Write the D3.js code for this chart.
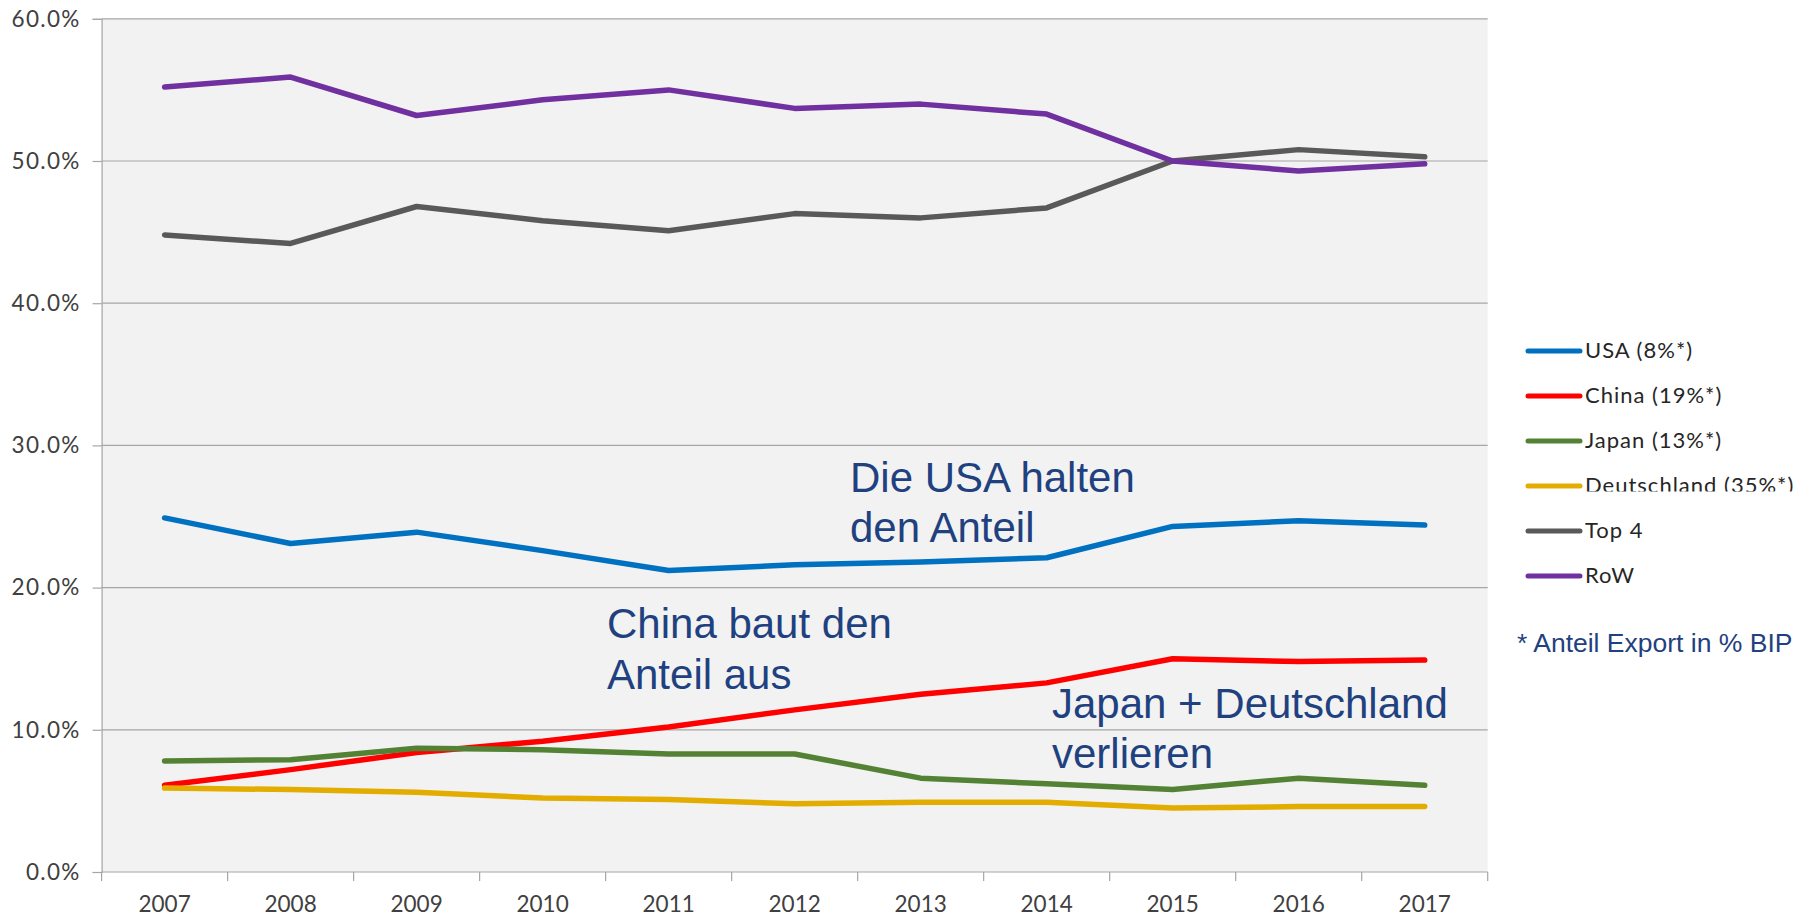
<!DOCTYPE html>
<html>
<head>
<meta charset="utf-8">
<script src="https://cdn.jsdelivr.net/npm/d3@7"></script>
<style>
  html, body { margin: 0; padding: 0; background: #ffffff; }
  svg { display: block; }
</style>
</head>
<body>
<svg id="chart" width="1811" height="917"></svg>
<script>
// ---- data ----
const years = ["2007","2008","2009","2010","2011","2012","2013","2014","2015","2016","2017"];
const usa         = [24.9, 23.1, 23.9, 22.6, 21.2, 21.6, 21.8, 22.1, 24.3, 24.7, 24.4];
const china       = [6.1, 7.2, 8.4, 9.2, 10.2, 11.4, 12.5, 13.3, 15.0, 14.8, 14.9];
const japan       = [7.8, 7.9, 8.7, 8.6, 8.3, 8.3, 6.6, 6.2, 5.8, 6.6, 6.1];
const deutschland = [5.9, 5.8, 5.6, 5.2, 5.1, 4.8, 4.9, 4.9, 4.5, 4.6, 4.6];
const top4        = [44.8, 44.2, 46.8, 45.8, 45.1, 46.3, 46.0, 46.7, 50.0, 50.8, 50.3];
const row         = [55.2, 55.9, 53.2, 54.3, 55.0, 53.7, 54.0, 53.3, 50.0, 49.3, 49.8];
const seriesNames = ["USA (8%*)", "China (19%*)", "Japan (13%*)", "Deutschland (35%*)", "Top 4", "RoW"];
const seriesColors = ["#0070c0", "#ff0000", "#548235", "#e3ac00", "#595959", "#7030a0"];
const yTicks = [0, 10, 20, 30, 40, 50, 60];
const annotations = [
  ["Die USA halten", "den Anteil"],
  ["China baut den", "Anteil aus"],
  ["Japan + Deutschland", "verlieren"]
];
const footnote = "* Anteil Export in % BIP";

const seriesValues = [usa, china, japan, deutschland, top4, row];

// ---- layout ----
const L = 101.6, R = 1487.7, T = 18.8, B = 872;
const svg = d3.select("#chart");

const x = d3.scaleBand().domain(years).range([L, R]).padding(0);
const y = d3.scaleLinear().domain([0, 60]).range([B, T]);

const axisColor = "#a6a6a6";
const labelFont = "Lato, 'Noto Sans', sans-serif";
const annoFont = "'Liberation Sans', Arial, sans-serif";
const annoColor = "#1f4180";

// plot background
svg.append("rect")
  .attr("x", L).attr("y", T)
  .attr("width", R - L).attr("height", B - T)
  .attr("fill", "#f2f2f2");

// gridlines
svg.append("g").selectAll("line")
  .data(yTicks.filter(d => d > 0))
  .join("line")
  .attr("x1", L).attr("x2", R)
  .attr("y1", d => y(d)).attr("y2", d => y(d))
  .attr("stroke", axisColor).attr("stroke-width", 1.2);

// y axis
const yAxis = svg.append("g")
  .attr("transform", `translate(${L},0)`)
  .call(d3.axisLeft(y).tickValues(yTicks).tickSize(9).tickPadding(12)
        .tickFormat(d => d3.format(".1f")(d) + "%"));
yAxis.select(".domain").attr("stroke", axisColor).attr("stroke-width", 1.2);
yAxis.selectAll(".tick line").attr("stroke", axisColor).attr("stroke-width", 1.2);
yAxis.selectAll(".tick text")
  .attr("font-family", labelFont).attr("font-size", 22.5)
  .attr("letter-spacing", 1.3)
  .attr("fill", "#404040");

// x axis (ticks at category boundaries)
const xAxisG = svg.append("g").attr("transform", `translate(0,${B})`);
xAxisG.append("line")
  .attr("x1", L).attr("x2", R).attr("y1", 0).attr("y2", 0)
  .attr("stroke", axisColor).attr("stroke-width", 1.2);
const boundaries = years.map(d => x(d)).concat([x(years[years.length - 1]) + x.bandwidth()]);
xAxisG.selectAll("line.tk")
  .data(boundaries)
  .join("line").attr("class", "tk")
  .attr("x1", d => d).attr("x2", d => d)
  .attr("y1", 0).attr("y2", 9)
  .attr("stroke", axisColor).attr("stroke-width", 1.2);
xAxisG.selectAll("text")
  .data(years)
  .join("text")
  .attr("x", d => x(d) + x.bandwidth() / 2)
  .attr("y", 40)
  .attr("text-anchor", "middle")
  .attr("font-family", labelFont).attr("font-size", 22.5)
  .attr("fill", "#404040")
  .text(d => d);

// lines
const line = d3.line()
  .x((d, i) => x(years[i]) + x.bandwidth() / 2)
  .y(d => y(d));

svg.append("g").selectAll("path")
  .data(seriesValues)
  .join("path")
  .attr("d", d => line(d))
  .attr("fill", "none")
  .attr("stroke", (d, i) => seriesColors[i])
  .attr("stroke-width", 5.5)
  .attr("stroke-linejoin", "round")
  .attr("stroke-linecap", "round");

// annotations
const annoPos = [[850, 492, 50], [607, 638, 51], [1052, 718, 50]];
annotations.forEach((lines, k) => {
  const t = svg.append("text")
    .attr("font-family", annoFont).attr("font-size", 42)
    .attr("fill", annoColor);
  lines.forEach((s, j) => {
    t.append("tspan")
      .attr("x", annoPos[k][0])
      .attr("y", annoPos[k][1] + j * annoPos[k][2])
      .text(s);
  });
});

// legend
const defs = svg.append("defs");
defs.append("clipPath").attr("id", "clipDe")
  .append("rect").attr("x", 1500).attr("y", 440).attr("width", 311).attr("height", 51.5);

const legend = svg.append("g");
seriesNames.forEach((name, i) => {
  const cy = 351 + i * 45;
  legend.append("line")
    .attr("x1", 1528).attr("x2", 1580)
    .attr("y1", cy).attr("y2", cy)
    .attr("stroke", seriesColors[i]).attr("stroke-width", 5)
    .attr("stroke-linecap", "round");
  const tx = legend.append("text")
    .attr("x", 1585).attr("y", cy + 7)
    .attr("font-family", labelFont).attr("font-size", 22)
    .attr("letter-spacing", 1)
    .attr("fill", "#262626")
    .text(name);
  if (i === 3) tx.attr("clip-path", "url(#clipDe)");
});

// footnote
svg.append("text")
  .attr("x", 1517).attr("y", 652)
  .attr("font-family", annoFont).attr("font-size", 26.5)
  .attr("fill", annoColor)
  .text(footnote);
</script>
</body>
</html>
